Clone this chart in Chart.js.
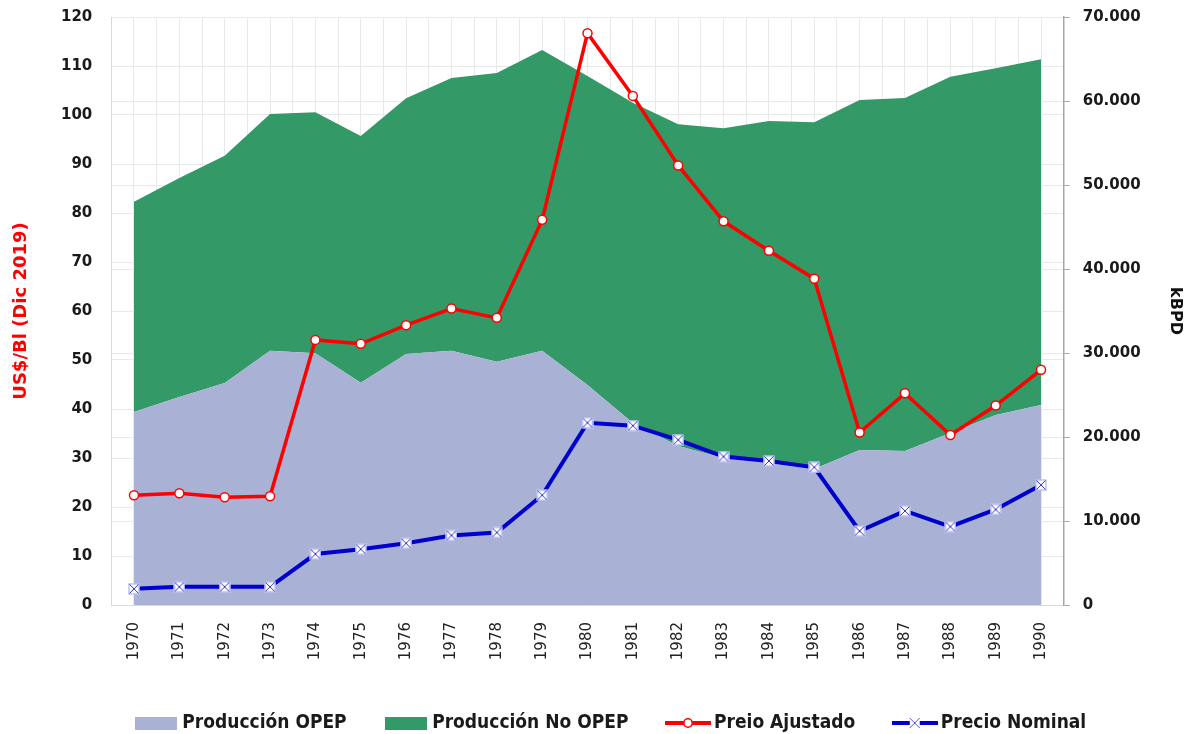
<!DOCTYPE html>
<html lang="es">
<head>
<meta charset="UTF-8">
<title>Producción y precio del petróleo 1970-1990</title>
<script src="https://cdn.jsdelivr.net/npm/chart.js"></script>
<style>
  html, body { margin: 0; padding: 0; background: #fff; }
  #wrap { width: 1188px; height: 734px; }
</style>
</head>
<body>
<div id="wrap"><canvas id="chart" width="1188" height="734"></canvas></div>
<script>
// datos
const years = ['1970','1971','1972','1973','1974','1975','1976','1977','1978','1979','1980',
               '1981','1982','1983','1984','1985','1986','1987','1988','1989','1990'];

// kBPD (eje derecho)
const prodOpep   = [22980, 24760, 26430, 30270, 29960, 26460, 29880, 30270, 28960, 30270, 26200,
                    21670, 18930, 17500, 16900, 16190, 18450, 18330, 20480, 22620, 23810];
const prodNoOpep = [25030, 26070, 27060, 28180, 28690, 29370, 30440, 32470, 34370, 35800, 36780,
                    38130, 38290, 39250, 40720, 41270, 41670, 42030, 42410, 41270, 41150];

// US$/Bl (eje izquierdo)
const precioAjustado = [22.4, 22.8, 22.0, 22.2, 54.1, 53.3, 57.1, 60.5, 58.6, 78.6, 116.7,
                        103.9, 89.7, 78.3, 72.3, 66.6, 35.2, 43.2, 34.7, 40.7, 48.0];
const precioNominal  = [3.3, 3.7, 3.7, 3.7, 10.4, 11.4, 12.6, 14.2, 14.8, 22.4, 37.2,
                        36.6, 33.7, 30.3, 29.4, 28.1, 15.1, 19.2, 16.0, 19.5, 24.5];

const COL_OPEP = '#a9b1d4';
const COL_NOOPEP = '#339966';
const COL_RED = '#ff0000';
const COL_BLUE = '#0000cc';
const GRID = '#e9e9e9';

function makeCanvas(w, h, draw) {
  const c = document.createElement('canvas');
  c.width = w; c.height = h;
  draw(c.getContext('2d'), w, h);
  return c;
}

// marcador "x" con fondo blanco
function drawXMark(ctx, cx, cy, s) {
  ctx.fillStyle = '#fff';
  ctx.fillRect(cx - s, cy - s, 2 * s, 2 * s);
  ctx.strokeStyle = '#9aa0ee';
  ctx.lineWidth = 1;
  ctx.strokeRect(cx - s + 0.5, cy - s + 0.5, 2 * s - 1, 2 * s - 1);
  ctx.strokeStyle = '#3333cc';
  ctx.beginPath();
  ctx.moveTo(cx - s + 1, cy - s + 1); ctx.lineTo(cx + s - 1, cy + s - 1);
  ctx.moveTo(cx + s - 1, cy - s + 1); ctx.lineTo(cx - s + 1, cy + s - 1);
  ctx.stroke();
}

const xMarker = makeCanvas(12, 12, (ctx) => drawXMark(ctx, 6, 6, 5.5));

const legendImgs = [
  makeCanvas(42, 13, (ctx, w, h) => { ctx.fillStyle = COL_OPEP; ctx.fillRect(0, 0, w, h); }),
  makeCanvas(42, 13, (ctx, w, h) => { ctx.fillStyle = COL_NOOPEP; ctx.fillRect(0, 0, w, h); }),
  makeCanvas(46, 12, (ctx, w, h) => {
    ctx.fillStyle = COL_RED; ctx.fillRect(0, 4, w, 4);
    ctx.beginPath(); ctx.arc(w / 2, 6, 4.2, 0, Math.PI * 2);
    ctx.fillStyle = '#fff'; ctx.fill();
    ctx.lineWidth = 1.5; ctx.strokeStyle = COL_RED; ctx.stroke();
  }),
  makeCanvas(46, 12, (ctx, w, h) => {
    ctx.fillStyle = COL_BLUE; ctx.fillRect(0, 4, w, 4);
    ctx.fillStyle = '#fff'; ctx.fillRect(w / 2 - 5, 1, 10, 10);
    ctx.strokeStyle = '#5555dd'; ctx.lineWidth = 1;
    ctx.beginPath();
    ctx.moveTo(w / 2 - 5, 1); ctx.lineTo(w / 2 + 5, 11);
    ctx.moveTo(w / 2 + 5, 1); ctx.lineTo(w / 2 - 5, 11);
    ctx.stroke();
  })
];

const LEGEND_H = 63.5;
const legendFix = {
  id: 'legendFix',
  afterInit(chart) {
    const lg = chart.legend;
    const fit = lg.fit.bind(lg);
    lg.fit = function () { fit(); this.height = LEGEND_H; };
  },
  afterLayout(chart) {
    chart.legend.left += 19;
    chart.legend.right += 19;
  }
};

function fmtMiles(v) {
  return String(v).replace(/\B(?=(\d{3})+(?!\d))/g, '.');
}

const tickFont = { family: 'DejaVu Sans', size: 15, weight: 'bold' };

function fixY(width) {
  return (s) => {
    s.width = width;
    s.paddingTop = 0;
    s.paddingBottom = 0;
  };
}

new Chart(document.getElementById('chart'), {
  type: 'line',
  data: {
    labels: years,
    datasets: [
      {
        label: 'Producción OPEP',
        data: prodOpep,
        yAxisID: 'y2',
        stack: 'prod',
        fill: 'origin',
        backgroundColor: COL_OPEP,
        borderWidth: 0,
        pointRadius: 0,
        order: 3
      },
      {
        label: 'Producción No OPEP',
        data: prodNoOpep,
        yAxisID: 'y2',
        stack: 'prod',
        fill: '-1',
        backgroundColor: COL_NOOPEP,
        borderWidth: 0,
        pointRadius: 0,
        order: 4
      },
      {
        label: 'Preio Ajustado',
        data: precioAjustado,
        yAxisID: 'y',
        borderColor: COL_RED,
        borderWidth: 3.5,
        pointRadius: 4.5,
        pointBackgroundColor: '#fff',
        pointBorderColor: COL_RED,
        pointBorderWidth: 1.5,
        fill: false,
        order: 0
      },
      {
        label: 'Precio Nominal',
        data: precioNominal,
        yAxisID: 'y',
        borderColor: COL_BLUE,
        borderWidth: 4,
        pointStyle: xMarker,
        pointRadius: 6,
        fill: false,
        order: 1
      }
    ]
  },
  options: {
    responsive: false,
    animation: false,
    layout: { padding: { top: 17, left: 0, right: 0, bottom: 0 } },
    plugins: {
      tooltip: { enabled: false },
      legend: {
        position: 'bottom',
        labels: {
          usePointStyle: true,
          pointStyleWidth: 33,
          padding: 43,
          color: '#1a1a1a',
          font: { family: 'DejaVu Sans Condensed', size: 19, weight: 'bold' },
          sort: (a, b) => a.datasetIndex - b.datasetIndex,
          generateLabels(chart) {
            return chart.data.datasets.map((ds, i) => ({
              text: ds.label,
              datasetIndex: i,
              pointStyle: legendImgs[i],
              fillStyle: 'transparent',
              strokeStyle: 'transparent',
              lineWidth: 0,
              fontColor: '#1a1a1a',
              hidden: false
            }));
          }
        }
      }
    },
    scales: {
      x: {
        type: 'category',
        offset: true,
        grid: { color: GRID, offset: true, drawTicks: false },
        border: { color: '#d9d9d9' },
        ticks: {
          autoSkip: false,
          minRotation: 90,
          maxRotation: 90,
          padding: 17,
          color: '#222',
          font: { family: 'DejaVu Sans', size: 15 }
        },
        afterFit(s) { s.height = 65.5; }
      },
      x2: {
        type: 'category',
        position: 'bottom',
        offset: true,
        grid: { color: GRID, offset: false, drawTicks: false },
        border: { display: false },
        ticks: { display: false },
        afterFit(s) { s.height = 0; }
      },
      y: {
        position: 'left',
        min: 0,
        max: 120,
        ticks: { stepSize: 10, padding: 19, color: '#1a1a1a', font: tickFont },
        grid: { color: GRID, drawTicks: false },
        border: { color: '#d9d9d9' },
        title: {
          display: true,
          text: 'US$/Bl (Dic 2019)',
          color: COL_RED,
          font: { family: 'DejaVu Sans', size: 18, weight: 'bold' },
          padding: { top: 11, bottom: 0 }
        },
        afterFit: fixY(111.3)
      },
      y2: {
        position: 'right',
        stacked: true,
        min: 0,
        max: 70000,
        ticks: {
          stepSize: 10000,
          padding: 13,
          color: '#1a1a1a',
          font: tickFont,
          callback: (v) => fmtMiles(v)
        },
        grid: { color: GRID, tickColor: '#a6a6a6', tickLength: 6 },
        border: { color: '#a6a6a6', width: 1.5 },
        title: {
          display: true,
          text: 'kBPD',
          color: '#111',
          font: { family: 'DejaVu Sans', size: 16, weight: 'bold' },
          padding: { top: 3, bottom: 0 }
        },
        afterFit: fixY(124.3)
      }
    }
  },
  plugins: [legendFix]
});
</script>
</body>
</html>
